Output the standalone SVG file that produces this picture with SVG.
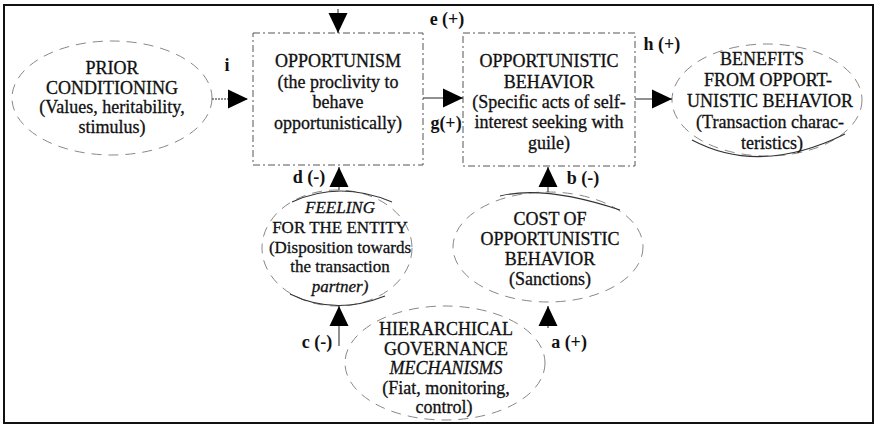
<svg xmlns="http://www.w3.org/2000/svg" width="877" height="425" viewBox="0 0 877 425">
  <style>
    .t { font-family: "Liberation Serif", "Times New Roman", serif; font-size: 18px; fill: #111; stroke: #111; stroke-width: 0.3; text-anchor: middle; }
    .s17 { font-size: 17px; }
    .b { font-weight: bold; stroke-width: 0; }
    .i { font-style: italic; }
    .box { fill: none; stroke: #555; stroke-width: 1; stroke-dasharray: 7 3 2 3; }
    .ell { fill: none; stroke: #888; stroke-width: 1; stroke-dasharray: 10 7; }
    .arc { fill: none; stroke: #333; stroke-width: 1.1; }
    .conn { fill: none; stroke: #222; stroke-width: 1; }
    .frame { fill: none; stroke: #111; stroke-width: 2; }
  </style>
  <defs>
    <marker id="ah" markerUnits="userSpaceOnUse" markerWidth="20" markerHeight="20" viewBox="0 0 20 20" refX="20" refY="10" orient="auto">
      <path d="M0,0.5 L20,10 L0,19.5 Z" fill="#000"/>
    </marker>
  </defs>

  <rect class="frame" x="4" y="5" width="869" height="418"/>

  <g id="prior-conditioning">
    <ellipse class="ell" cx="112" cy="98" rx="100" ry="57"/>
    <text class="t" x="112" y="74">PRIOR</text>
    <text class="t" x="112" y="94">CONDITIONING</text>
    <text class="t" x="112" y="113">(Values, heritability,</text>
    <text class="t" x="112" y="133">stimulus)</text>
  </g>

  <g id="opportunism">
    <rect class="box" x="253" y="33" width="170" height="132"/>
    <text class="t" x="338" y="67">OPPORTUNISM</text>
    <text class="t" x="338" y="87.5">(the proclivity to</text>
    <text class="t" x="338" y="108">behave</text>
    <text class="t" x="338" y="128.5">opportunistically)</text>
  </g>

  <g id="opportunistic-behavior">
    <rect class="box" x="463" y="33" width="172" height="133"/>
    <text class="t" x="549" y="67">OPPORTUNISTIC</text>
    <text class="t" x="549" y="88">BEHAVIOR</text>
    <text class="t" x="549" y="108">(Specific acts of self-</text>
    <text class="t" x="549" y="128">interest seeking with</text>
    <text class="t" x="549" y="149">guile)</text>
  </g>

  <g id="benefits">
    <ellipse class="ell" cx="767" cy="100" rx="95" ry="56"/>
    <path class="arc" d="M692,140 Q760,176 845,134"/>
    <text class="t" x="762" y="65">BENEFITS</text>
    <text class="t" x="768" y="86">FROM OPPORT-</text>
    <text class="t" x="770" y="107">UNISTIC BEHAVIOR</text>
    <text class="t" x="770" y="128">(Transaction charac-</text>
    <text class="t" x="772" y="149">teristics)</text>
  </g>

  <g id="feeling">
    <ellipse class="ell" cx="337" cy="248" rx="75" ry="58"/>
    <path class="arc" d="M292,202 Q340,180 392,202"/>
    <path class="arc" d="M290,294 Q335,316 385,296"/>
    <text class="t s17 i" x="340" y="213">FEELING</text>
    <text class="t s17" x="340" y="233">FOR THE ENTITY</text>
    <text class="t s17" x="340" y="253">(Disposition towards</text>
    <text class="t s17" x="340" y="272">the transaction</text>
    <text class="t s17 i" x="340" y="292">partner)</text>
  </g>

  <g id="cost">
    <ellipse class="ell" cx="548" cy="247" rx="95" ry="55"/>
    <path class="arc" d="M500,196 Q545,185 620,210"/>
    <text class="t" x="550" y="225">COST OF</text>
    <text class="t" x="550" y="245">OPPORTUNISTIC</text>
    <text class="t" x="550" y="265">BEHAVIOR</text>
    <text class="t" x="550" y="285">(Sanctions)</text>
  </g>

  <g id="hierarchical">
    <ellipse class="ell" cx="445" cy="363" rx="100" ry="57"/>
    <text class="t" x="446" y="335">HIERARCHICAL</text>
    <text class="t" x="446" y="355">GOVERNANCE</text>
    <text class="t i" x="446" y="374">MECHANISMS</text>
    <text class="t" x="446" y="394">(Fiat, monitoring,</text>
    <text class="t" x="444" y="413">control)</text>
  </g>

  <g id="connectors">
    <line class="conn" x1="212" y1="99" x2="248" y2="99" marker-end="url(#ah)" stroke-dasharray="2 1"/>
    <line class="conn" x1="338" y1="9" x2="338" y2="33" marker-end="url(#ah)"/>
    <line class="conn" x1="423" y1="98" x2="463" y2="98" marker-end="url(#ah)"/>
    <line class="conn" x1="635" y1="99" x2="672" y2="99" marker-end="url(#ah)"/>
    <line class="conn" x1="339" y1="190" x2="339" y2="167" marker-end="url(#ah)"/>
    <line class="conn" x1="548" y1="192" x2="548" y2="167" marker-end="url(#ah)"/>
    <line class="conn" x1="339" y1="346" x2="339" y2="306" marker-end="url(#ah)"/>
    <line class="conn" x1="548" y1="328" x2="548" y2="306" marker-end="url(#ah)"/>
  </g>

  <g id="labels">
    <text class="t b" x="227" y="71">i</text>
    <text class="t b" x="447" y="25">e (+)</text>
    <text class="t b" x="446" y="129">g(+)</text>
    <text class="t b" x="662" y="50">h (+)</text>
    <text class="t b" x="309" y="183">d (-)</text>
    <text class="t b" x="583" y="184">b (-)</text>
    <text class="t b" x="317" y="348">c (-)</text>
    <text class="t b" x="569" y="348">a (+)</text>
  </g>
</svg>
